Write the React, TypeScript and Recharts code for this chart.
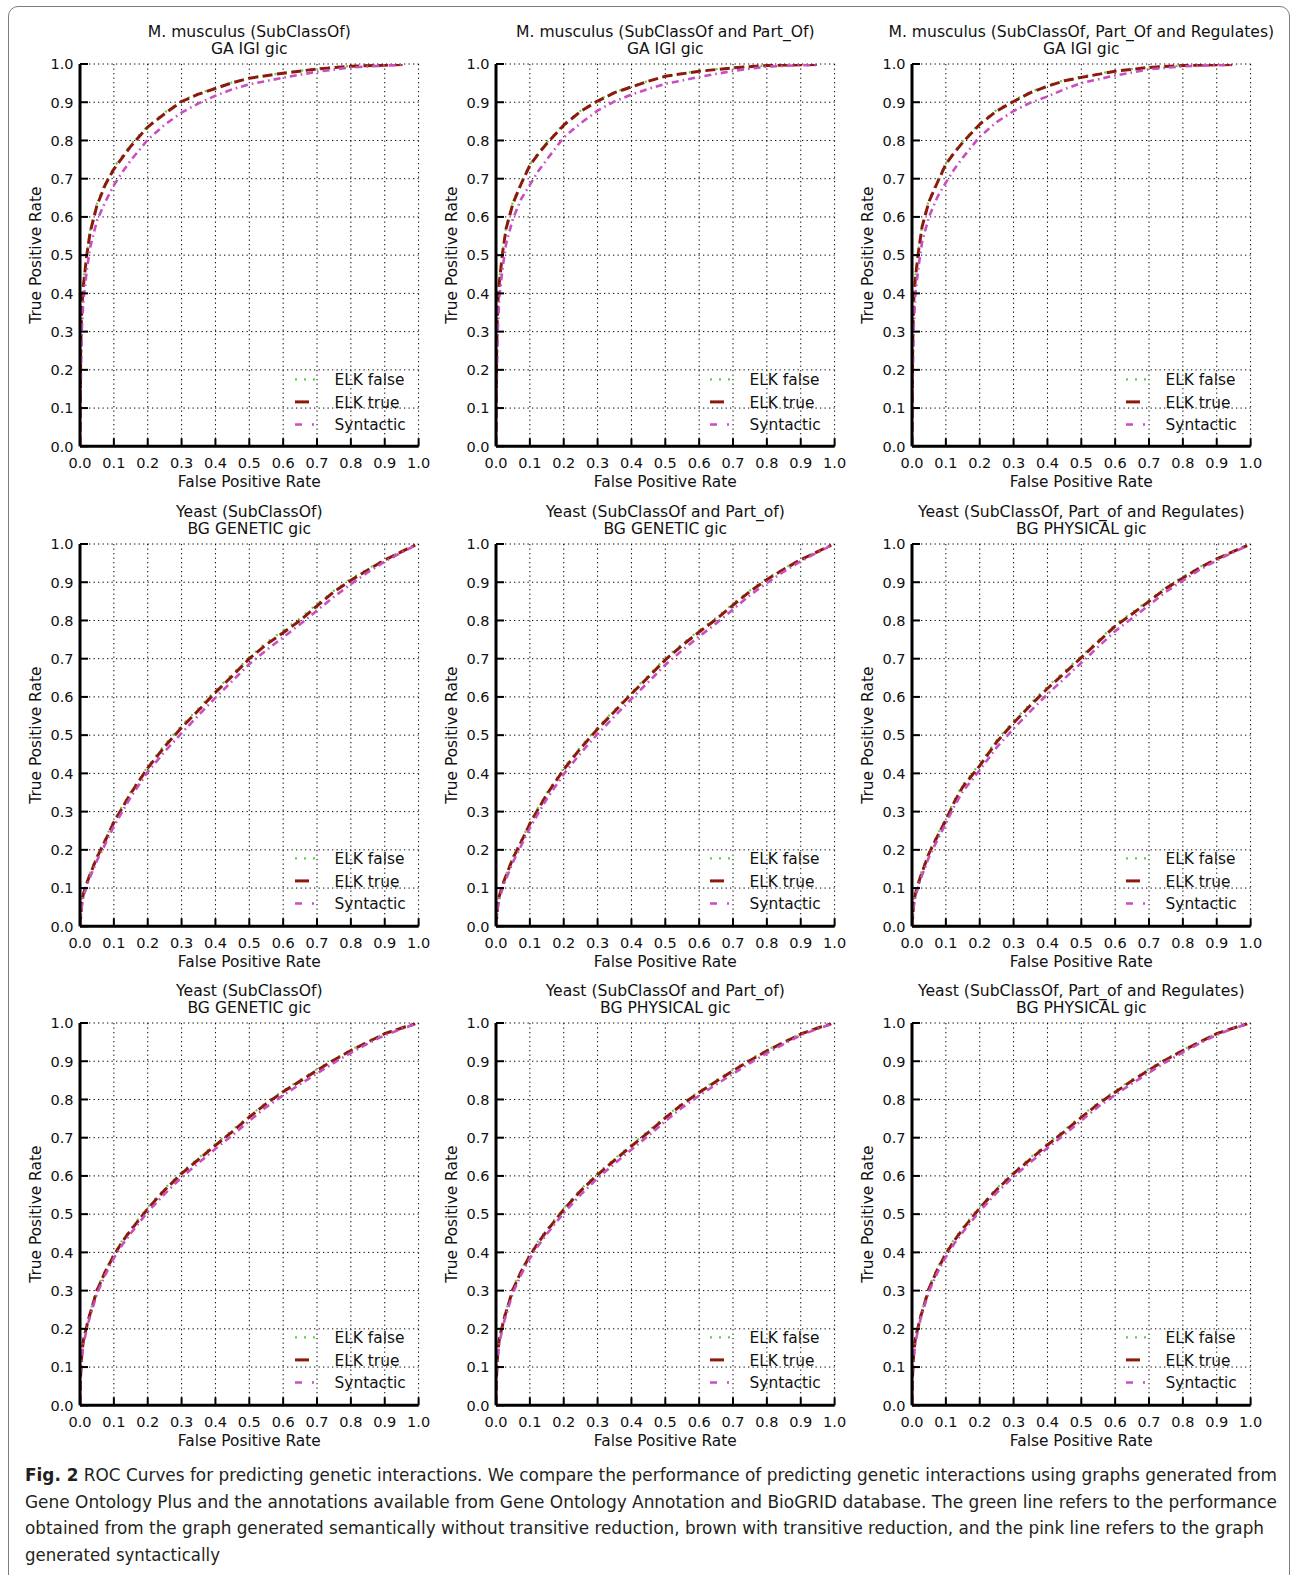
import React from 'react';
import { LineChart, Line, XAxis, YAxis, CartesianGrid, Legend } from 'recharts';

// ---------- data ----------
const TICKS = [0, 0.1, 0.2, 0.3, 0.4, 0.5, 0.6, 0.7, 0.8, 0.9, 1.0];
const SERIES_NAMES = ['ELK false', 'ELK true', 'Syntactic'];

const TITLE_LINE1 = [
  'M. musculus (SubClassOf)',
  'M. musculus (SubClassOf and Part_Of)',
  'M. musculus (SubClassOf, Part_Of and Regulates)',
  'Yeast (SubClassOf)',
  'Yeast (SubClassOf and Part_of)',
  'Yeast (SubClassOf, Part_of and Regulates)',
  'Yeast (SubClassOf)',
  'Yeast (SubClassOf and Part_of)',
  'Yeast (SubClassOf, Part_of and Regulates)',
];
const TITLE_LINE2 = [
  'GA IGI gic', 'GA IGI gic', 'GA IGI gic',
  'BG GENETIC gic', 'BG GENETIC gic', 'BG PHYSICAL gic',
  'BG GENETIC gic', 'BG PHYSICAL gic', 'BG PHYSICAL gic',
];

const FPR_ROW1 = [0, 0.002, 0.005, 0.01, 0.02, 0.03, 0.05, 0.075, 0.1, 0.125, 0.15, 0.2, 0.25, 0.3, 0.35, 0.4, 0.45, 0.5, 0.6, 0.7, 0.8, 0.9, 0.955];
const FPR_ROW2 = [0, 0.005, 0.01, 0.025, 0.05, 0.075, 0.1, 0.125, 0.15, 0.2, 0.25, 0.3, 0.35, 0.4, 0.45, 0.5, 0.55, 0.6, 0.65, 0.7, 0.75, 0.8, 0.85, 0.9, 0.95, 0.99];
const FPR_ROW3 = [0, 0.002, 0.005, 0.01, 0.025, 0.05, 0.075, 0.1, 0.125, 0.15, 0.2, 0.25, 0.3, 0.35, 0.4, 0.45, 0.5, 0.55, 0.6, 0.65, 0.7, 0.75, 0.8, 0.85, 0.9, 0.95, 0.99];

// panel 1
const P1_ELK_FALSE = [0, 0.26, 0.37, 0.43, 0.505, 0.565, 0.635, 0.69, 0.73, 0.76, 0.79, 0.838, 0.873, 0.904, 0.923, 0.938, 0.952, 0.963, 0.977, 0.988, 0.995, 0.998, 0.999];
const P1_ELK_TRUE = [0, 0.25, 0.36, 0.42, 0.5, 0.56, 0.63, 0.685, 0.725, 0.755, 0.785, 0.835, 0.87, 0.902, 0.921, 0.936, 0.951, 0.963, 0.976, 0.987, 0.994, 0.997, 0.999];
const P1_SYNTACTIC = [0, 0.15, 0.3, 0.38, 0.46, 0.52, 0.59, 0.64, 0.683, 0.717, 0.748, 0.802, 0.841, 0.873, 0.897, 0.917, 0.934, 0.947, 0.964, 0.98, 0.991, 0.996, 0.998];
// panel 2
const P2_ELK_FALSE = [0, 0.27, 0.38, 0.44, 0.515, 0.575, 0.64, 0.692, 0.738, 0.768, 0.795, 0.843, 0.878, 0.905, 0.926, 0.941, 0.956, 0.968, 0.982, 0.991, 0.996, 0.998, 0.999];
const P2_ELK_TRUE = [0, 0.26, 0.37, 0.43, 0.51, 0.57, 0.635, 0.688, 0.735, 0.765, 0.792, 0.84, 0.876, 0.903, 0.925, 0.94, 0.955, 0.968, 0.981, 0.99, 0.996, 0.998, 0.999];
const P2_SYNTACTIC = [0, 0.16, 0.3, 0.39, 0.47, 0.53, 0.595, 0.648, 0.684, 0.72, 0.75, 0.808, 0.845, 0.878, 0.902, 0.92, 0.935, 0.948, 0.966, 0.982, 0.993, 0.997, 0.998];
// panel 3
const P3_ELK_FALSE = [0, 0.28, 0.39, 0.445, 0.52, 0.58, 0.645, 0.694, 0.741, 0.771, 0.798, 0.845, 0.88, 0.905, 0.927, 0.944, 0.958, 0.967, 0.982, 0.992, 0.996, 0.998, 0.999];
const P3_ELK_TRUE = [0, 0.27, 0.38, 0.44, 0.515, 0.575, 0.64, 0.69, 0.738, 0.768, 0.795, 0.842, 0.877, 0.902, 0.925, 0.942, 0.956, 0.965, 0.981, 0.991, 0.996, 0.998, 0.999];
const P3_SYNTACTIC = [0, 0.17, 0.31, 0.4, 0.475, 0.535, 0.6, 0.652, 0.69, 0.725, 0.755, 0.81, 0.848, 0.877, 0.899, 0.915, 0.934, 0.95, 0.97, 0.986, 0.994, 0.997, 0.998];
// panel 4
const P4_ELK_FALSE = [0, 0.065, 0.09, 0.13, 0.185, 0.23, 0.276, 0.315, 0.352, 0.418, 0.475, 0.525, 0.57, 0.617, 0.66, 0.704, 0.742, 0.774, 0.806, 0.843, 0.878, 0.909, 0.935, 0.96, 0.981, 0.997];
const P4_ELK_TRUE = [0, 0.06, 0.085, 0.125, 0.18, 0.225, 0.272, 0.31, 0.348, 0.414, 0.47, 0.52, 0.565, 0.612, 0.655, 0.7, 0.737, 0.768, 0.8, 0.838, 0.875, 0.905, 0.932, 0.958, 0.98, 0.997];
const P4_SYNTACTIC = [0, 0.05, 0.078, 0.118, 0.172, 0.216, 0.262, 0.3, 0.338, 0.404, 0.457, 0.505, 0.552, 0.598, 0.642, 0.686, 0.722, 0.756, 0.79, 0.826, 0.862, 0.895, 0.926, 0.954, 0.978, 0.996];
// panel 5
const P5_ELK_FALSE = [0, 0.06, 0.085, 0.126, 0.182, 0.226, 0.272, 0.311, 0.349, 0.414, 0.47, 0.52, 0.566, 0.612, 0.656, 0.701, 0.739, 0.774, 0.807, 0.844, 0.879, 0.91, 0.936, 0.96, 0.981, 0.997];
const P5_ELK_TRUE = [0, 0.055, 0.08, 0.122, 0.178, 0.222, 0.268, 0.307, 0.345, 0.41, 0.466, 0.516, 0.562, 0.608, 0.652, 0.697, 0.735, 0.77, 0.803, 0.84, 0.876, 0.907, 0.934, 0.959, 0.98, 0.997];
const P5_SYNTACTIC = [0, 0.048, 0.073, 0.114, 0.168, 0.212, 0.257, 0.296, 0.333, 0.398, 0.453, 0.503, 0.549, 0.595, 0.639, 0.684, 0.722, 0.758, 0.792, 0.829, 0.866, 0.898, 0.928, 0.955, 0.978, 0.996];
// panel 6
const P6_ELK_FALSE = [0, 0.064, 0.09, 0.135, 0.195, 0.24, 0.283, 0.33, 0.37, 0.425, 0.487, 0.537, 0.583, 0.627, 0.667, 0.707, 0.748, 0.789, 0.821, 0.853, 0.887, 0.914, 0.94, 0.962, 0.982, 0.996];
const P6_ELK_TRUE = [0, 0.06, 0.085, 0.13, 0.19, 0.235, 0.278, 0.325, 0.365, 0.42, 0.482, 0.532, 0.578, 0.622, 0.662, 0.703, 0.744, 0.785, 0.817, 0.85, 0.884, 0.911, 0.938, 0.961, 0.981, 0.996];
const P6_SYNTACTIC = [0, 0.052, 0.078, 0.122, 0.181, 0.226, 0.269, 0.314, 0.353, 0.408, 0.468, 0.517, 0.563, 0.607, 0.648, 0.689, 0.731, 0.772, 0.806, 0.84, 0.875, 0.904, 0.933, 0.957, 0.979, 0.995];
// panel 7
const P7_ELK_FALSE = [0, 0.085, 0.135, 0.175, 0.23, 0.305, 0.354, 0.396, 0.432, 0.462, 0.518, 0.567, 0.61, 0.647, 0.684, 0.72, 0.757, 0.792, 0.823, 0.851, 0.879, 0.905, 0.93, 0.952, 0.973, 0.988, 0.998];
const P7_ELK_TRUE = [0, 0.08, 0.13, 0.17, 0.225, 0.3, 0.35, 0.392, 0.428, 0.458, 0.514, 0.563, 0.606, 0.643, 0.68, 0.716, 0.754, 0.789, 0.82, 0.848, 0.876, 0.903, 0.928, 0.95, 0.972, 0.987, 0.998];
const P7_SYNTACTIC = [0, 0.07, 0.12, 0.16, 0.218, 0.292, 0.342, 0.385, 0.42, 0.45, 0.506, 0.553, 0.596, 0.634, 0.671, 0.706, 0.744, 0.78, 0.811, 0.84, 0.868, 0.896, 0.922, 0.946, 0.968, 0.985, 0.997];
// panel 8
const P8_ELK_FALSE = [0, 0.09, 0.14, 0.18, 0.235, 0.308, 0.355, 0.395, 0.43, 0.46, 0.516, 0.565, 0.607, 0.645, 0.682, 0.718, 0.755, 0.79, 0.821, 0.85, 0.878, 0.905, 0.929, 0.951, 0.973, 0.988, 0.998];
const P8_ELK_TRUE = [0, 0.085, 0.135, 0.175, 0.23, 0.303, 0.351, 0.391, 0.426, 0.456, 0.512, 0.561, 0.603, 0.641, 0.678, 0.714, 0.752, 0.787, 0.818, 0.847, 0.875, 0.902, 0.927, 0.949, 0.971, 0.987, 0.998];
const P8_SYNTACTIC = [0, 0.075, 0.125, 0.165, 0.222, 0.295, 0.343, 0.384, 0.418, 0.448, 0.503, 0.551, 0.594, 0.632, 0.669, 0.705, 0.743, 0.779, 0.81, 0.839, 0.867, 0.895, 0.921, 0.945, 0.968, 0.985, 0.997];
// panel 9
const P9_ELK_FALSE = [0, 0.09, 0.14, 0.18, 0.235, 0.31, 0.36, 0.4, 0.435, 0.465, 0.52, 0.568, 0.61, 0.648, 0.685, 0.72, 0.757, 0.792, 0.823, 0.852, 0.88, 0.906, 0.93, 0.952, 0.973, 0.988, 0.998];
const P9_ELK_TRUE = [0, 0.085, 0.135, 0.175, 0.23, 0.305, 0.355, 0.396, 0.431, 0.461, 0.516, 0.564, 0.606, 0.644, 0.681, 0.716, 0.753, 0.788, 0.819, 0.849, 0.877, 0.904, 0.928, 0.95, 0.972, 0.987, 0.998];
const P9_SYNTACTIC = [0, 0.075, 0.125, 0.165, 0.225, 0.298, 0.347, 0.388, 0.423, 0.453, 0.508, 0.556, 0.598, 0.636, 0.673, 0.708, 0.745, 0.781, 0.812, 0.842, 0.87, 0.898, 0.923, 0.947, 0.969, 0.986, 0.997];

const CAPTION_LINES = [
  'Gene Ontology Plus and the annotations available from Gene Ontology Annotation and BioGRID database. The green line refers to the performance',
  'obtained from the graph generated semantically without transitive reduction, brown with transitive reduction, and the pink line refers to the graph',
  'generated syntactically',
];
const CAPTION_FIRST_BOLD = 'Fig. 2';
const CAPTION_FIRST_REST = ' ROC Curves for predicting genetic interactions. We compare the performance of predicting genetic interactions using graphs generated from';

// ---------- layout / style ----------
const FONT = '"DejaVu Sans", Verdana, sans-serif';
const PLOT_W = 338.6;
const PLOT_H = 382.3;
const M_LEFT = 8;
const Y_W = 62;
const M_TOP = 50;
const X_H = 48;
const CH_W = 430;
const CH_H = 481;
const M_RIGHT = CH_W - M_LEFT - Y_W - PLOT_W;
const M_BOTTOM = CH_H - M_TOP - PLOT_H - X_H;
const COL_PLOT_LEFT = [80, 495.8, 911.7];
const ROW_PLOT_TOP = [64.3, 544, 1023];

const SERIES_STYLE = [
  { key: 'elkFalse', color: '#5fcf45', width: 2.2, dash: '2 7', legendDash: '2 7' },
  { key: 'elkTrue', color: '#8c1a0c', width: 3, dash: '10 4.5', legendDash: '14 60' },
  { key: 'syntactic', color: '#c94fc0', width: 2.6, dash: '7 4 1.6 4', legendDash: '7 10 2 60' },
];

const PANEL_SERIES = [
  [FPR_ROW1, P1_ELK_FALSE, P1_ELK_TRUE, P1_SYNTACTIC],
  [FPR_ROW1, P2_ELK_FALSE, P2_ELK_TRUE, P2_SYNTACTIC],
  [FPR_ROW1, P3_ELK_FALSE, P3_ELK_TRUE, P3_SYNTACTIC],
  [FPR_ROW2, P4_ELK_FALSE, P4_ELK_TRUE, P4_SYNTACTIC],
  [FPR_ROW2, P5_ELK_FALSE, P5_ELK_TRUE, P5_SYNTACTIC],
  [FPR_ROW2, P6_ELK_FALSE, P6_ELK_TRUE, P6_SYNTACTIC],
  [FPR_ROW3, P7_ELK_FALSE, P7_ELK_TRUE, P7_SYNTACTIC],
  [FPR_ROW3, P8_ELK_FALSE, P8_ELK_TRUE, P8_SYNTACTIC],
  [FPR_ROW3, P9_ELK_FALSE, P9_ELK_TRUE, P9_SYNTACTIC],
];

const buildData = (idx: number) => {
  const [fpr, a, b, c] = PANEL_SERIES[idx];
  return fpr.map((f, i) => ({ fpr: f, elkFalse: a[i], elkTrue: b[i], syntactic: c[i] }));
};

const fmt = (v: number) => Number(v).toFixed(1);

const BottomTick = (props: any) => {
  const { x, y, payload } = props;
  return (
    <g>
      <line x1={x} x2={x} y1={y} y2={y - 8} stroke="#000" strokeWidth={2} />
      <text x={x} y={y + 21.8} textAnchor="middle" fontSize={14.5} fontFamily={FONT} fill="#111">
        {fmt(payload.value)}
      </text>
    </g>
  );
};
const LeftTick = (props: any) => {
  const { x, y, payload } = props;
  return (
    <g>
      <line x1={x} x2={x + 8} y1={y} y2={y} stroke="#000" strokeWidth={2} />
      <text x={x - 6.5} y={y + 5.3} textAnchor="end" fontSize={14.5} fontFamily={FONT} fill="#111">
        {fmt(payload.value)}
      </text>
    </g>
  );
};
const TopTick = (props: any) => {
  const { x, y } = props;
  return <line x1={x} x2={x} y1={y} y2={y + 8} stroke="#000" strokeWidth={2} />;
};
const RightTick = (props: any) => {
  const { x, y } = props;
  return <line x1={x} x2={x - 8} y1={y} y2={y} stroke="#000" strokeWidth={2} />;
};

const renderLegend = (props: any) => {
  const payload = props.payload || [];
  return (
    <svg width={130} height={72} style={{ display: 'block', overflow: 'visible' }}>
      {payload.map((entry: any, i: number) => {
        const st = SERIES_STYLE[i];
        const cy = 12.3 + i * 22.6;
        return (
          <g key={String(entry.value)}>
            <line x1={0} x2={21} y1={cy} y2={cy} stroke={st.color} strokeWidth={st.width} strokeDasharray={st.legendDash} />
            <text x={39.5} y={cy + 5.6} fontSize={15.4} fontFamily={FONT} fill="#111">
              {entry.value}
            </text>
          </g>
        );
      })}
    </svg>
  );
};

const Panel = ({ idx }: { idx: number }) => {
  const col = idx % 3;
  const row = Math.floor(idx / 3);
  const left = COL_PLOT_LEFT[col] - M_LEFT - Y_W;
  const top = ROW_PLOT_TOP[row] - M_TOP;
  const data = buildData(idx);
  const t1 = TITLE_LINE1[idx];
  const t2 = TITLE_LINE2[idx];
  const titleX = M_LEFT + Y_W + PLOT_W / 2;
  return (
    <div style={{ position: 'absolute', left, top, width: CH_W, height: CH_H }}>
      <svg
        width={CH_W}
        height={M_TOP}
        style={{ position: 'absolute', left: 0, top: 0, overflow: 'visible' }}
      >
        <text x={titleX} y={M_TOP - 26.9} textAnchor="middle" fontSize={15.6} fontFamily={FONT} fill="#111">
          {t1}
        </text>
        <text x={titleX} y={M_TOP - 10.3} textAnchor="middle" fontSize={15.6} fontFamily={FONT} fill="#111">
          {t2}
        </text>
      </svg>
      <LineChart
        width={CH_W}
        height={CH_H}
        data={data}
        margin={{ top: M_TOP, right: M_RIGHT, bottom: M_BOTTOM, left: M_LEFT }}
      >
        <CartesianGrid stroke="#000" strokeWidth={1} strokeDasharray="1.3 3.2" />
        {SERIES_STYLE.map((st, i) => (
          <Line
            key={st.key}
            type="linear"
            dataKey={st.key}
            name={SERIES_NAMES[i]}
            stroke={st.color}
            strokeWidth={st.width}
            strokeDasharray={st.dash}
            dot={false}
            activeDot={false}
            isAnimationActive={false}
          />
        ))}
        <XAxis
          dataKey="fpr"
          type="number"
          domain={[0, 1]}
          ticks={TICKS}
          interval={0}
          allowDataOverflow
          height={X_H}
          tickSize={0}
          tickMargin={0}
          tickLine={false}
          axisLine={{ stroke: '#000', strokeWidth: 3 }}
          tick={(p: any) => <BottomTick {...p} />}
          label={{
            content: (p: any) => {
              const vb = p.viewBox || {};
              return (
                <text x={vb.x + vb.width / 2} y={vb.y + 41} textAnchor="middle" fontSize={15.4} fontFamily={FONT} fill="#111">
                  False Positive Rate
                </text>
              );
            },
          }}
        />
        <XAxis
          xAxisId="top"
          orientation="top"
          type="number"
          domain={[0, 1]}
          ticks={TICKS}
          interval={0}
          allowDataOverflow
          height={0}
          tickSize={0}
          tickMargin={0}
          tickLine={false}
          axisLine={{ stroke: '#000', strokeWidth: 3 }}
          tick={(p: any) => <TopTick {...p} />}
        />
        <YAxis
          type="number"
          domain={[0, 1]}
          ticks={TICKS}
          interval={0}
          allowDataOverflow
          width={Y_W}
          tickSize={0}
          tickMargin={0}
          tickLine={false}
          axisLine={{ stroke: '#000', strokeWidth: 3 }}
          tick={(p: any) => <LeftTick {...p} />}
          label={{
            content: (p: any) => {
              const vb = p.viewBox || {};
              const x = vb.x + vb.width - 39.4;
              const y = vb.y + vb.height / 2;
              return (
                <text x={x} y={y} transform={`rotate(-90, ${x}, ${y})`} textAnchor="middle" fontSize={15.4} fontFamily={FONT} fill="#111">
                  True Positive Rate
                </text>
              );
            },
          }}
        />
        <YAxis
          yAxisId="right"
          orientation="right"
          type="number"
          domain={[0, 1]}
          ticks={TICKS}
          interval={0}
          allowDataOverflow
          width={0}
          tickSize={0}
          tickMargin={0}
          tickLine={false}
          axisLine={{ stroke: '#000', strokeWidth: 3 }}
          tick={(p: any) => <RightTick {...p} />}
        />
        <Legend
          layout="vertical"
          align="center"
          verticalAlign="middle"
          content={renderLegend}
          wrapperStyle={{
            left: M_LEFT + Y_W + PLOT_W - 124,
            top: M_TOP + PLOT_H - 80,
            width: 130,
            height: 72,
          }}
        />
      </LineChart>
    </div>
  );
};

const CAPTION_FONT = '"DejaVu Sans Condensed", "Liberation Sans Narrow", "Open Sans", sans-serif';
const CAPTION_SIZE = 17.2;
const CAPTION_BASELINES = [1481, 1507.6, 1534.2, 1560.8];
const CAPTION_WIDTHS = [1252, 1252, 1239, 195];

export default function App() {
  return (
    <div
      style={{
        position: 'absolute',
        left: 0,
        top: 0,
        width: 1294,
        height: 1575,
        overflow: 'hidden',
        background: '#fff',
      }}
    >
      <div
        style={{
          position: 'absolute',
          left: 8,
          top: 6,
          width: 1282,
          height: 1700,
          border: '1.5px solid #7d7d7d',
          borderRadius: 10,
          boxSizing: 'border-box',
        }}
      />
      {Array.from({ length: 9 }, (_, i) => (
        <Panel key={i} idx={i} />
      ))}
      <svg
        width={1294}
        height={1575}
        style={{ position: 'absolute', left: 0, top: 0, pointerEvents: 'none' }}
      >
        <text
          x={25}
          y={CAPTION_BASELINES[0]}
          fontSize={CAPTION_SIZE}
          fontFamily={CAPTION_FONT}
          fill="#231f20"
          textLength={CAPTION_WIDTHS[0]}
          lengthAdjust="spacingAndGlyphs"
        >
          <tspan fontWeight="bold">{CAPTION_FIRST_BOLD}</tspan>
          <tspan>{CAPTION_FIRST_REST}</tspan>
        </text>
        {CAPTION_LINES.map((line, i) => (
          <text
            key={i}
            x={25}
            y={CAPTION_BASELINES[i + 1]}
            fontSize={CAPTION_SIZE}
            fontFamily={CAPTION_FONT}
            fill="#231f20"
            textLength={CAPTION_WIDTHS[i + 1]}
            lengthAdjust="spacingAndGlyphs"
          >
            {line}
          </text>
        ))}
      </svg>
    </div>
  );
}
